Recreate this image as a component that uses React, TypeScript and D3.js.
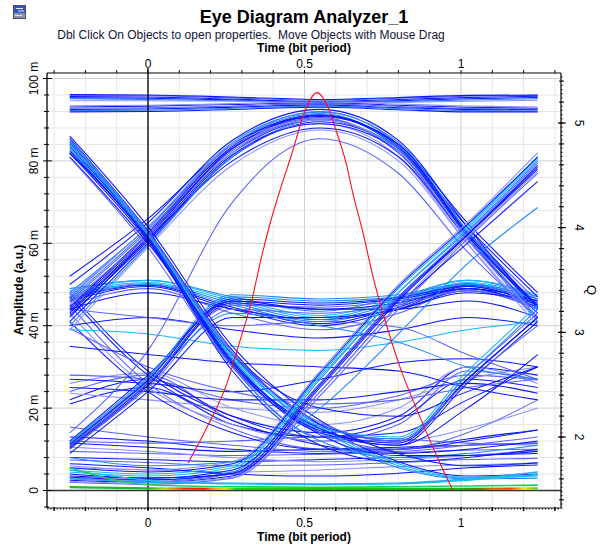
import React from 'react';
import * as d3 from 'd3';

// Sample instants (bit periods) at which each trace amplitude is listed
const SAMPLE_TIMES = [-0.25, 0, 0.27, 0.55, 0.8, 1.02, 1.245];

// Amplitudes in milli-units (m) at SAMPLE_TIMES
const TOP_RAILS = [
  [95.6, 95.5, 95.0, 94.4, 94.9, 95.4, 95.7],
  [95.9, 95.8, 95.3, 94.7, 95.2, 95.7, 95.9],
  [95.3, 95.2, 94.8, 94.2, 94.6, 95.1, 95.4],
  [95.1, 94.9, 94.6, 94.3, 94.4, 94.8, 95.1],
  [94.6, 94.6, 94.5, 94.0, 94.2, 94.5, 94.7],
  [96.1, 96.0, 95.5, 94.9, 95.4, 95.9, 96.0],
  [93.1, 93.3, 93.7, 94.1, 93.5, 93.0, 92.8],
  [92.8, 92.9, 93.3, 93.9, 93.2, 92.7, 92.6],
  [92.5, 92.6, 93.0, 93.6, 92.9, 92.5, 92.4],
  [92.2, 92.3, 92.8, 93.3, 92.7, 92.2, 92.1],
  [93.4, 93.5, 93.9, 94.3, 93.8, 93.3, 93.1],
  [91.9, 92.0, 92.5, 93.0, 92.4, 91.9, 91.9],
];

const UPPER_ARCHES = [
  [44, 62, 83, 91, 83, 62, 44],
  [46, 63, 84, 92, 84, 63, 45],
  [42, 61, 82, 90, 82, 61, 42],
  [48, 64, 84, 91.5, 83, 62, 41],
  [41, 60, 81, 89.5, 83, 64, 47],
  [45, 62, 82, 89, 81, 60, 40],
  [43, 61, 80, 88, 81, 61, 43],
  [47, 64, 83, 90.5, 82, 63, 46],
  [50, 65, 85, 92.5, 85, 64, 44],
  [40, 59.5, 81, 90, 83, 62, 42],
  [52, 66, 84, 91, 84, 65, 48],
  [39, 59, 79, 87.5, 80, 60, 41],
  [44.5, 62.5, 83.5, 91.2, 83.5, 62.5, 44.5],
  [45.5, 62, 82.5, 90.2, 82, 61.5, 43],
  [43.5, 61.5, 83, 90.8, 84, 62.5, 45],
  [46.5, 63.5, 84.5, 91.8, 84.5, 63, 44],
  [42.5, 60.5, 81.5, 89, 82.5, 62, 44.5],
  [47.5, 64, 84, 90, 82.5, 61, 42],
];

const LONE_ARCH = [
  [14, 34, 70, 85.4, 77, 58, 42],
];

const FALLING_EDGES = [
  [85, 62, 32, 15, 6, 3, 3.5],
  [84, 62, 33, 16, 7, 3.5, 4],
  [83, 61, 31, 14, 5.5, 2.8, 3],
  [84.5, 62, 31, 14, 11, 26, 41],
  [82, 61, 30, 13, 12, 28, 43],
  [85.5, 63, 34, 16, 12, 27, 42],
  [83, 62, 32, 15, 13, 29, 45],
  [81, 60, 33, 20, 18, 24, 30],
  [84, 62, 30, 12, 8, 9, 11],
  [82, 61, 29, 11, 7, 8, 10],
  [80.8, 59, 30, 14, 10, 14, 22],
  [86, 64, 35, 17, 9, 6, 6.7],
  [84.2, 62.2, 32.5, 15.5, 6.5, 3.2, 3.8],
  [83.5, 61.5, 31.5, 14.5, 11.5, 27, 42],
  [84.8, 62.5, 33, 15.5, 12.5, 28, 44],
  [82.5, 61, 30.5, 13.5, 8.5, 8.5, 9.5],
  [85.2, 62.8, 33.5, 16.5, 12, 26.5, 40],
  [81.8, 60.5, 31, 15, 11, 20, 33],
];

const RISING_EDGES = [
  [2.5, 2, 3.5, 25, 46, 62, 79],
  [3, 2.5, 4.5, 27, 48, 63, 80],
  [2, 1.5, 3, 23, 44, 61, 77],
  [4, 3, 5, 26, 47, 62, 78],
  [5, 4, 6, 28, 49, 64, 81],
  [6, 5, 7, 29, 50, 65, 82],
  [3.5, 3, 4, 24, 45, 60, 75],
  [8, 6, 7, 20, 38, 55, 68.7],
  [2.8, 2.2, 4, 26, 47, 62.5, 79.5],
  [3.2, 2.6, 4.2, 25.5, 46.5, 62, 78.5],
  [4.5, 3.5, 5.5, 27.5, 48, 63.5, 80.5],
  [2.2, 1.8, 3.2, 24, 45, 61.5, 77.5],
  [5.5, 4.5, 6.5, 28.5, 49.5, 64.5, 81],
];

const MID_ARCHES = [
  [47, 50, 45, 41, 45, 50, 46],
  [46, 49.5, 44, 40, 44, 49.5, 45],
  [48, 50.5, 46, 42, 46, 50.5, 47],
  [45, 49, 43, 39, 43, 49, 44],
  [44, 48, 44, 41.5, 44, 48.5, 44],
  [49, 51, 47, 43.5, 47, 51, 47],
  [40, 42, 39, 37, 39, 42, 40],
  [39, 38, 35, 34, 36, 39, 41],
  [44, 42, 40, 41, 39.6, 33, 27],
  [35, 33, 31, 30, 29, 25, 22],
  [47.5, 50.2, 45.5, 41.5, 45.5, 50.2, 46.5],
  [46.5, 49.8, 44.5, 40.5, 44.5, 49.8, 45.5],
  [48.5, 51, 46.5, 42.5, 46.5, 51, 47.5],
];

const LOW_TO_MID = [
  [10.6, 26, 46, 45, 46.5, 49, 46],
  [11.5, 27, 47, 46, 47, 50, 45],
  [10, 25, 44, 43, 45, 48.5, 44],
  [12, 28, 46, 44, 44, 46, 42],
  [9, 24, 42, 42, 44, 48, 46],
  [11, 26.5, 43, 40, 36, 30, 27],
  [10.8, 26.2, 45, 44.5, 46, 48.5, 45.5],
  [11.2, 26.8, 46.5, 45.5, 46.8, 49.5, 45],
  [10.3, 25.5, 45.5, 44, 45.5, 49, 44.5],
  [11.8, 27.5, 47.5, 46.5, 47.5, 50.2, 46.5],
];

const MID_TO_LOW = [
  [47, 28, 17, 11, 9, 10, 12],
  [45, 26, 15, 10, 9.5, 11, 13],
  [43, 25, 16, 12, 12, 15, 20],
  [48, 29, 18, 13, 14, 22, 30],
  [41, 24, 14, 10, 10, 12, 14.7],
  [39.4, 30, 24, 21, 22, 25, 27],
];

const LOWER_ARCHES = [
  [24, 28, 17, 12, 16, 29, 27],
  [22, 27, 18, 14, 18, 30, 28],
  [26, 28.5, 20, 16, 20, 30, 26],
  [21, 25, 16, 13, 17, 27, 25],
  [28, 27, 22, 20, 23, 28, 26.8],
  [25, 24, 22, 22, 24, 26, 23.6],
  [23.6, 22, 20, 19, 22, 27, 30],
  [27, 26, 24, 27, 31, 32, 30],
];

const LOW_LEVEL = [
  [8, 7.5, 7, 7.5, 8, 8.5, 9],
  [7.4, 6.8, 6.0, 6.2, 6.8, 7.5, 7.8],
  [11.5, 10.5, 9.5, 10, 10.5, 11, 11.5],
  [5.5, 5, 4.5, 5, 5.8, 6.2, 6.7],
  [9.5, 9, 8.5, 8.8, 9.2, 9.8, 10],
  [13, 12, 10, 9, 10, 12.5, 14.7],
  [15.4, 13, 11, 9.5, 10, 11, 11.5],
  [6.5, 5.5, 4.0, 3.5, 4.2, 5.5, 6.2],
  [10.5, 9.5, 8, 7, 7.5, 8.5, 9.8],
  [12, 11.5, 12, 13, 12.5, 11.5, 11],
];

const FLOOR_CYAN = [
  [5, 2.5, 1.6, 1.4, 1.6, 2.5, 3.8],
  [3, 2, 1.8, 1.6, 1.8, 2.8, 4.5],
];
const FLOOR_GREEN = [
  [5.5, 1.4, 0.9, 0.8, 0.9, 1.1, 1.3],
];
const FLOOR_HEAT = [0.8, 0.5, 0.4, 0.4, 0.4, 0.4, 0.5];

// Q factor versus decision instant
const Q_TIME = [0.128, 0.188, 0.252, 0.294, 0.332, 0.358, 0.39, 0.422, 0.463, 0.495, 0.54,
  0.575, 0.604, 0.636, 0.652, 0.687, 0.719, 0.751, 0.805, 0.869, 0.933, 0.974];
const Q_VALUE = [1.75, 2.09, 2.51, 2.92, 3.31, 3.66, 4.04, 4.36, 4.74, 5.06, 5.29,
  5.15, 4.9, 4.58, 4.36, 3.95, 3.53, 3.18, 2.67, 2.19, 1.75, 1.49];

const X_TICKS = [0, 0.5, 1];
const X_TICK_LABELS = ['0', '0.5', '1'];
const Y_TICKS = [0, 20, 40, 60, 80, 100];
const Y_TICK_LABELS = ['0', '20 m', '40 m', '60 m', '80 m', '100 m'];
const Q_TICKS = [2, 3, 4, 5];
const Q_TICK_LABELS = ['2', '3', '4', '5'];

const FRAME = { left: 47, right: 561, top: 73, bottom: 508 };
const FONT = "'Liberation Sans', Arial, sans-serif";

const x = d3.scaleLinear().domain([0, 1]).range([148, 461]);
const y = d3.scaleLinear().domain([0, 100]).range([490.5, 78.5]);
const yQ = d3.scaleLinear().domain([2, 5]).range([437, 123]);

const DEEP = '#0b16ff';
const SOFT = '#5b63ff';
const PALE = '#8a90ff';
const SKY = '#1f86ff';
const AQUA = '#14b4ff';

const FAMILIES: { rows: number[][]; palette: string[] }[] = [
  { rows: LOW_LEVEL, palette: [DEEP, SOFT, DEEP, PALE, SOFT] },
  { rows: LOWER_ARCHES, palette: [SOFT, DEEP, PALE, DEEP] },
  { rows: MID_TO_LOW, palette: [DEEP, SOFT, PALE, DEEP] },
  { rows: MID_ARCHES, palette: [SKY, DEEP, AQUA, SOFT, DEEP] },
  { rows: LOW_TO_MID, palette: [DEEP, SKY, SOFT, DEEP] },
  { rows: TOP_RAILS, palette: [DEEP, SOFT, DEEP, SKY, PALE, DEEP] },
  { rows: UPPER_ARCHES, palette: [DEEP, SOFT, DEEP, SKY, DEEP, PALE] },
  { rows: LONE_ARCH, palette: [SOFT] },
  { rows: FALLING_EDGES, palette: [AQUA, DEEP, SKY, DEEP, SOFT, DEEP] },
  { rows: RISING_EDGES, palette: [DEEP, SKY, SOFT, DEEP, AQUA, PALE] },
];

const trace = d3
  .line<number>()
  .x((_, i) => x(SAMPLE_TIMES[i]))
  .y((d) => y(d))
  .curve(d3.curveMonotoneX);

const qLine = d3
  .line<number>()
  .x((_, i) => x(Q_TIME[i]))
  .y((d) => yQ(d))
  .curve(d3.curveMonotoneX);

const round = (v: number) => Math.round(v * 1000) / 1000;

export default function App() {
  const { left, right, top, bottom } = FRAME;
  const gridT = d3.range(-3, 14).map((k) => k / 10);
  const gridV = d3.range(0, 101, 4);
  const bottomMinor = d3.range(-32, 132).map((k) => k / 100);
  const leftMinor = d3.range(-4, 101, 4);
  const qMinor = d3.range(1.32, 5.48, 0.04);
  const qMid = d3.range(1.4, 5.5, 0.2);
  const heatStart = x(SAMPLE_TIMES[0]);
  const heatEnd = x(SAMPLE_TIMES[SAMPLE_TIMES.length - 1]);
  const off = (px: number) => `${((px - heatStart) / (heatEnd - heatStart)) * 100}%`;

  return (
    <svg
      width={601}
      height={547}
      style={{ position: 'absolute', left: 0, top: 0, background: '#fff' }}
      fontFamily={FONT}
    >
      <defs>
        <linearGradient id="floorHeat" gradientUnits="userSpaceOnUse" x1={heatStart} x2={heatEnd} y1={0} y2={0}>
          <stop offset={off(69)} stopColor="#16b84a" />
          <stop offset={off(150)} stopColor="#10c020" />
          <stop offset={off(165)} stopColor="#b8d400" />
          <stop offset={off(184)} stopColor="#ff2a00" />
          <stop offset={off(204)} stopColor="#ff2000" />
          <stop offset={off(214)} stopColor="#ff9a00" />
          <stop offset={off(226)} stopColor="#d8e000" />
          <stop offset={off(236)} stopColor="#22c814" />
          <stop offset={off(455)} stopColor="#18b818" />
          <stop offset={off(478)} stopColor="#5a7a10" />
          <stop offset={off(496)} stopColor="#e06a00" />
          <stop offset={off(510)} stopColor="#ff3a00" />
          <stop offset={off(524)} stopColor="#ffd800" />
          <stop offset={off(539)} stopColor="#30d020" />
        </linearGradient>
        <clipPath id="plotClip">
          <rect x={left} y={top} width={right - left} height={bottom - top} />
        </clipPath>
      </defs>

      {/* window icon */}
      <g>
        <rect x={13.5} y={5.5} width={12} height={13} fill="#8a93a8" stroke="#4a5060" />
        <rect x={14} y={6} width={11} height={7} fill="#3553c8" />
        <line x1={16} x2={23} y1={8.5} y2={8.5} stroke="#e8eeff" strokeWidth={1} />
        <line x1={18} x2={24} y1={11} y2={11} stroke="#e8eeff" strokeWidth={1} />
        <line x1={15} x2={22} y1={15.5} y2={15.5} stroke="#dfe3ea" strokeWidth={1} />
      </g>

      {/* titles */}
      <text x={304} y={23} textAnchor="middle" fontSize={18} fontWeight="bold" fill="#000">
        Eye Diagram Analyzer_1
      </text>
      <text x={251} y={39} textAnchor="middle" fontSize={12} fill="#14143a">
        Dbl Click On Objects to open properties.{'\u00a0\u00a0'}Move Objects with Mouse Drag
      </text>
      <text x={304} y={52} textAnchor="middle" fontSize={12} fontWeight="bold" fill="#000">
        Time (bit period)
      </text>

      {/* grid */}
      <g>
        {gridT.map((t) => (
          <line
            key={`gt${t}`}
            x1={x(t)}
            x2={x(t)}
            y1={top}
            y2={bottom}
            stroke={Math.abs(Math.round(t * 10) % 5) === 0 ? '#cfcfcf' : '#e6e6e6'}
            strokeWidth={1}
          />
        ))}
        {gridV.map((v) => (
          <line
            key={`gv${v}`}
            x1={left}
            x2={right}
            y1={y(v)}
            y2={y(v)}
            stroke={v % 20 === 0 ? '#cfcfcf' : '#e6e6e6'}
            strokeWidth={1}
          />
        ))}
      </g>

      {/* eye traces */}
      <g clipPath="url(#plotClip)" fill="none" strokeWidth={1.05}>
        {FAMILIES.map((fam, fi) =>
          fam.rows.map((row, ri) => (
            <path
              key={`f${fi}-${ri}`}
              d={trace(row) ?? ''}
              stroke={fam.palette[ri % fam.palette.length]}
            />
          ))
        )}
      </g>

      {/* zero references */}
      <line x1={left} x2={right} y1={y(0)} y2={y(0)} stroke="#333" strokeWidth={1.3} />
      <line x1={x(0)} x2={x(0)} y1={top - 5} y2={bottom + 2} stroke="#000" strokeWidth={1.3} />

      {/* floor traces */}
      <g fill="none">
        {FLOOR_CYAN.map((row, i) => (
          <path key={`fc${i}`} d={trace(row) ?? ''} stroke={i === 0 ? '#10c6e6' : '#2aa8f0'} strokeWidth={1.4} />
        ))}
        {FLOOR_GREEN.map((row, i) => (
          <path key={`fg${i}`} d={trace(row) ?? ''} stroke="#18d060" strokeWidth={1.6} />
        ))}
        <path d={trace(FLOOR_HEAT) ?? ''} stroke="url(#floorHeat)" strokeWidth={2.2} />
      </g>

      {/* Q factor curve */}
      <path d={qLine(Q_VALUE) ?? ''} fill="none" stroke="#ff1010" strokeWidth={1.1} />

      {/* frame and axes */}
      <g stroke="#000" strokeWidth={1}>
        <line x1={left} x2={right} y1={top} y2={top} strokeWidth={1.2} />
        <line x1={left} x2={left} y1={top} y2={bottom} strokeWidth={1.3} />
        <line x1={right} x2={right} y1={top} y2={bottom} strokeWidth={1.2} />
        <line x1={left} x2={right} y1={bottom} y2={bottom} strokeWidth={1} stroke="#222" />
        {gridT.map((t) => (
          <line key={`tt${t}`} x1={round(x(t))} x2={round(x(t))} y1={top - 3} y2={top} />
        ))}
        {bottomMinor.map((t) => (
          <line key={`bm${t}`} x1={round(x(t))} x2={round(x(t))} y1={bottom} y2={bottom + 1.6} strokeWidth={0.9} />
        ))}
        {gridT.map((t) => (
          <line key={`bt${t}`} x1={round(x(t))} x2={round(x(t))} y1={bottom - 1} y2={bottom + 3} strokeWidth={1.4} />
        ))}
        {leftMinor.map((v) => (
          <line
            key={`lt${v}`}
            x1={v % 20 === 0 ? left - 4 : left - 3}
            x2={v % 20 === 0 ? left + 5 : left + 2}
            y1={round(y(v))}
            y2={round(y(v))}
          />
        ))}
        {qMinor.map((q) => (
          <line key={`qm${q}`} x1={right} x2={right + 1.6} y1={round(yQ(q))} y2={round(yQ(q))} strokeWidth={0.9} />
        ))}
        {qMid.map((q) => (
          <line key={`qd${q}`} x1={right - 2} x2={right + 3} y1={round(yQ(q))} y2={round(yQ(q))} />
        ))}
        {Q_TICKS.map((q) => (
          <line key={`qt${q}`} x1={right - 3} x2={right + 5} y1={yQ(q)} y2={yQ(q)} />
        ))}
      </g>

      {/* tick labels */}
      <g fontSize={12} fill="#000">
        {X_TICKS.map((t, i) => (
          <text key={`xtt${t}`} x={x(t)} y={68} textAnchor="middle">
            {X_TICK_LABELS[i]}
          </text>
        ))}
        {X_TICKS.map((t, i) => (
          <text key={`xtb${t}`} x={x(t)} y={527} textAnchor="middle">
            {X_TICK_LABELS[i]}
          </text>
        ))}
        {Y_TICKS.map((v, i) => (
          <text
            key={`yt${v}`}
            transform={`translate(38,${y(v)}) rotate(-90)`}
            textAnchor="middle"
          >
            {Y_TICK_LABELS[i]}
          </text>
        ))}
        {Q_TICKS.map((q, i) => (
          <text key={`qt${q}`} transform={`translate(575,${yQ(q)}) rotate(90)`} textAnchor="middle">
            {Q_TICK_LABELS[i]}
          </text>
        ))}
      </g>

      {/* axis titles */}
      <text x={304} y={541} textAnchor="middle" fontSize={12} fontWeight="bold">
        Time (bit period)
      </text>
      <text transform="translate(23,290) rotate(-90)" textAnchor="middle" fontSize={12} fontWeight="bold">
        Amplitude (a.u.)
      </text>
      <text transform="translate(587,290) rotate(90)" textAnchor="middle" fontSize={13}>
        Q
      </text>
    </svg>
  );
}
